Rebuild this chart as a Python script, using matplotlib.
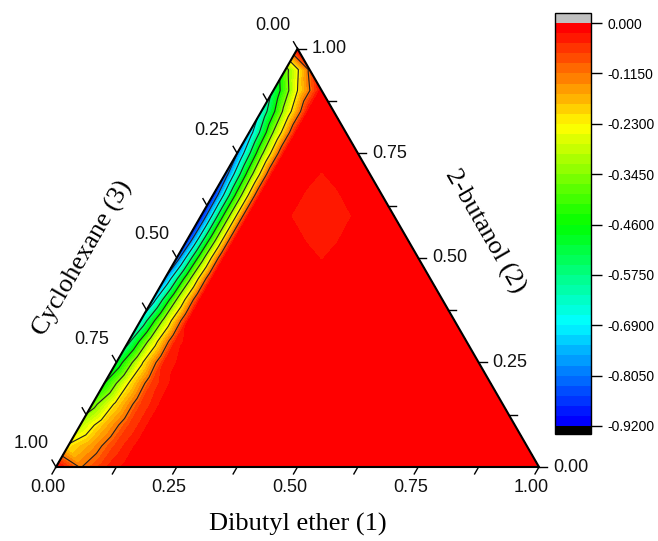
import numpy as np
import matplotlib
matplotlib.use('Agg')
import matplotlib.pyplot as plt
import matplotlib.tri as mtri
from matplotlib.colors import LinearSegmentedColormap, ListedColormap

# grid of compositions, step 0.05 in mole fraction
step = 0.05
# 2-butanol (x2) of each grid row, from the Dibutyl ether / Cyclohexane side up to pure 2-butanol
x2_rows = [0.00, 0.05, 0.10, 0.15, 0.20, 0.25, 0.30, 0.35, 0.40, 0.45, 0.50,
           0.55, 0.60, 0.65, 0.70, 0.75, 0.80, 0.85, 0.90, 0.95, 1.00]
# values on each row at x1 = 0, 0.05, 0.10, 0.15 (Dibutyl ether); the rest of the row is flat
row_vals = [
    [0.00, -0.12, -0.05, -0.010],
    [-0.22, -0.15, -0.06, -0.010],
    [-0.30, -0.18, -0.07, -0.010],
    [-0.38, -0.21, -0.07, -0.010],
    [-0.46, -0.23, -0.06, -0.008],
    [-0.53, -0.25, -0.04],
    [-0.60, -0.28, -0.03],
    [-0.67, -0.31, -0.02],
    [-0.74, -0.34, -0.012],
    [-0.80, -0.37, -0.008],
    [-0.86, -0.40, -0.005],
    [-0.90, -0.42, -0.005],
    [-0.91, -0.42, -0.005],
    [-0.90, -0.42, -0.005],
    [-0.86, -0.40, -0.005],
    [-0.81, -0.37, -0.005],
    [-0.75, -0.34, -0.005],
    [-0.66, -0.30, -0.005],
    [-0.55, -0.23, -0.005],
    [-0.38, -0.10],
    [0.00],
]
plateau = -0.005
# shallow dip inside the diagram
dip_x1 = [0.25, 0.20, 0.30, 0.25, 0.25, 0.20, 0.30, 0.20, 0.30]
dip_x2 = [0.60, 0.60, 0.55, 0.55, 0.65, 0.65, 0.60, 0.70, 0.50]
dip_val = [-0.032, -0.030, -0.030, -0.030, -0.030, -0.030, -0.029, -0.025, -0.025]

cbar_ticks = [-0.92, -0.805, -0.69, -0.575, -0.46, -0.345, -0.23, -0.115, 0.0]
cbar_labels = ['-0.9200', '-0.8050', '-0.6900', '-0.5750', '-0.4600',
               '-0.3450', '-0.2300', '-0.1150', '0.000']
line_levels = [-0.805, -0.69, -0.575, -0.46, -0.345, -0.23, -0.115]
axis_ticks = [0.0, 0.25, 0.5, 0.75, 1.0]
axis_ticklabels = ['0.00', '0.25', '0.50', '0.75', '1.00']

h = np.sqrt(3) / 2


def to_xy(x1, x2):
    x1 = np.asarray(x1, float)
    x2 = np.asarray(x2, float)
    return x1 + x2 / 2, x2 * h


# build the node table
p1, p2, pv = [], [], []
for i, x2 in enumerate(x2_rows):
    vals = row_vals[i]
    for j in range(len(x2_rows) - i):
        p1.append(round(j * step, 2))
        p2.append(x2)
        pv.append(vals[j] if j < len(vals) else plateau)
p1 = np.array(p1)
p2 = np.array(p2)
pv = np.array(pv)
for a, b, v in zip(dip_x1, dip_x2, dip_val):
    k = np.where(np.isclose(p1, a) & np.isclose(p2, b))[0]
    pv[k] = v

X, Y = to_xy(p1, p2)
tri = mtri.Triangulation(X, Y)

base = LinearSegmentedColormap.from_list(
    'rainbow', ['#0000ff', '#00ffff', '#00ff00', '#ffff00', '#ff0000'])
cmap = ListedColormap(base(np.linspace(0, 1, 40)))
cmap.set_over('#c0c0c0')
cmap.set_under('black')
levels = np.linspace(-0.92, 0, 41)

fig = plt.figure(figsize=(6.58, 5.41), dpi=100)
ax = fig.add_axes([0, 0, 1, 1])
ax.set_xlim(-56 / 483, (658 - 56) / 483)
ax.set_ylim((467 - 541) / 483, 467 / 483)
ax.axis('off')

cf = ax.tricontourf(tri, pv, levels=levels, cmap=cmap, extend='both')
ax.tricontour(tri, pv, levels=line_levels, colors='#222222', linewidths=0.8,
              linestyles='solid')

# triangle frame
ax.plot([0, 1, 0.5, 0], [0, 0, h, 0], color='black', lw=1.5,
        solid_joinstyle='miter', zorder=5)

# ticks
tl = 8 / 483
for t in np.arange(0, 1.0001, 0.125):
    bx, by = t, 0
    ax.plot([bx, bx - 0.5 * tl], [by, by - h * tl], color='black', lw=1, zorder=5)
    rx, ry = 1 - t / 2, t * h
    ax.plot([rx, rx + tl], [ry, ry], color='black', lw=1, zorder=5)
    lx, ly = (1 - t) / 2, (1 - t) * h
    ax.plot([lx, lx - 0.5 * tl], [ly, ly + h * tl], color='black', lw=1, zorder=5)

tick_font = dict(fontsize=13, family='Liberation Sans', color='#111111')
for t, lab in zip(axis_ticks, axis_ticklabels):
    ax.annotate(lab, (t, 0), xytext=(-8, -20), textcoords='offset pixels',
                ha='center', va='center', **tick_font)
    ax.annotate(lab, (1 - t / 2, t * h), xytext=(14, 0), textcoords='offset pixels',
                ha='left', va='center', **tick_font)
    ax.annotate(lab, ((1 - t) / 2, (1 - t) * h), xytext=(-25, 23),
                textcoords='offset pixels', ha='center', va='center', **tick_font)

title_font = dict(fontsize=19, family='Liberation Serif', color='black')
ax.text(0.5, -0.118, 'Dibutyl ether (1)', ha='center', va='center', **title_font)
ax.text(0.056, 0.431, 'Cyclohexane (3)', ha='center', va='center', rotation=60,
        rotation_mode='anchor', **title_font)
ax.text(0.888, 0.489, '2-butanol (2)', ha='center', va='center', rotation=-60,
        rotation_mode='anchor', **title_font)

cax = fig.add_axes([555 / 658, (541 - 434) / 541, 36 / 658, 421 / 541])
cb = fig.colorbar(cf, cax=cax, extend='both', extendfrac=(0.02, 0.025),
                  extendrect=True, ticks=cbar_ticks)
cb.set_ticklabels(cbar_labels)
cb.minorticks_off()
cb.outline.set_linewidth(1)
cb.ax.tick_params(direction='out', length=8, width=1, labelsize=10, pad=4)
for lab in cb.ax.get_yticklabels():
    lab.set_family('Liberation Sans')

fig.savefig('out.png', dpi=100)
